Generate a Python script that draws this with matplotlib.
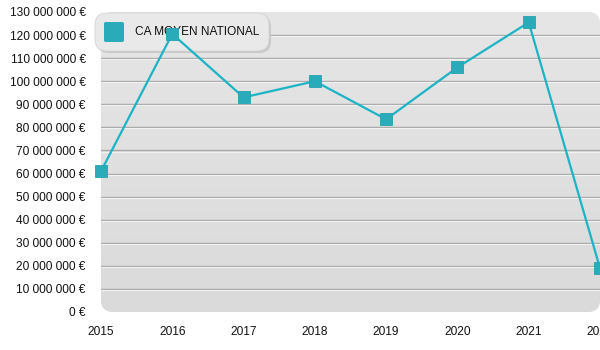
import matplotlib.pyplot as plt
from matplotlib.patches import FancyBboxPatch
from matplotlib.colors import LinearSegmentedColormap
from matplotlib.ticker import FuncFormatter
import numpy as np

plt.rcParams["font.family"] = ["Liberation Sans", "DejaVu Sans"]

years = [2015, 2016, 2017, 2018, 2019, 2020, 2021, 2022]
ca_moyen = [61_000_000, 120_500_000, 93_000_000, 100_000_000,
            83_500_000, 106_000_000, 125_500_000, 19_000_000]
series_label = "CA MOYEN NATIONAL"

line_color = "#1bb4c6"
marker_color = "#2aabb9"

fig = plt.figure(figsize=(6, 3.5), dpi=100)
ax = fig.add_axes([101 / 600, 38 / 350, 499 / 600, 300 / 350])
ax.patch.set_visible(False)

ax.set_xlim(2015, 2022)
ax.set_ylim(0, 130_000_000)

# rounded plot background with a soft vertical gradient
bg = FancyBboxPatch((0, 0), 1, 1, boxstyle="round,pad=0,rounding_size=0.025",
                    transform=ax.transAxes, facecolor="#e0e0e0",
                    edgecolor="none", zorder=0, mutation_aspect=499 / 300)
ax.add_patch(bg)
grad = np.linspace(0, 1, 256).reshape(-1, 1)
img = ax.imshow(grad, extent=[0, 1, 0, 1], transform=ax.transAxes,
                cmap=LinearSegmentedColormap.from_list("bg", ["#dadada", "#e6e6e6"]),
                origin="lower", aspect="auto", zorder=0.5)
img.set_clip_path(bg)

# grid lines with a light highlight underneath
for v in range(10_000_000, 130_000_000, 10_000_000):
    ax.axhline(v, color="#a8a8a8", lw=1.0, zorder=1)
    ax.axhline(v - 450_000, color="#f2f2f2", lw=0.8, zorder=1)

ax.plot(years, ca_moyen, color=line_color, lw=1.6, zorder=4, clip_on=False)
ax.plot(years, ca_moyen, ls="none", marker="s", ms=8.5,
        markerfacecolor=marker_color, markeredgecolor="#25a2b0",
        markeredgewidth=0.6, zorder=5, clip_on=False)

for s in ax.spines.values():
    s.set_visible(False)
ax.tick_params(length=0, labelsize=8.6, colors="#111111")
ax.tick_params(axis="y", pad=11)
ax.tick_params(axis="x", pad=10)
ax.set_xticks(years)
ax.set_yticks(range(0, 130_000_001, 10_000_000))
ax.yaxis.set_major_formatter(
    FuncFormatter(lambda v, _: f"{v:,.0f}".replace(",", " ") + " €"))

# legend box drawn by hand so the line passes over it
fx = fig.transFigure
shadow = FancyBboxPatch((97 / 600, 1 - 53 / 350), 174 / 600, 38 / 350,
                        boxstyle="round,pad=0,rounding_size=0.02",
                        transform=fx, facecolor="#c8c8c8", edgecolor="none",
                        zorder=2, clip_on=False, mutation_aspect=600 / 350)
box = FancyBboxPatch((95 / 600, 1 - 51 / 350), 174 / 600, 38 / 350,
                     boxstyle="round,pad=0,rounding_size=0.02",
                     transform=fx, facecolor="#e9e9e9", edgecolor="#d4d4d4",
                     lw=0.6, zorder=2.5, clip_on=False, mutation_aspect=600 / 350)
ax.add_patch(shadow)
ax.add_patch(box)
handle = FancyBboxPatch((104 / 600, 1 - 42 / 350), 20 / 600, 20 / 350,
                        boxstyle="round,pad=0,rounding_size=0.004",
                        transform=fx, facecolor=marker_color, edgecolor="none",
                        zorder=3, clip_on=False)
ax.add_patch(handle)
ax.text(135 / 600, 1 - 32 / 350, series_label, transform=fx, fontsize=8.6,
        va="center", ha="left", color="#111111", zorder=3)

fig.savefig("out.png", dpi=100)
